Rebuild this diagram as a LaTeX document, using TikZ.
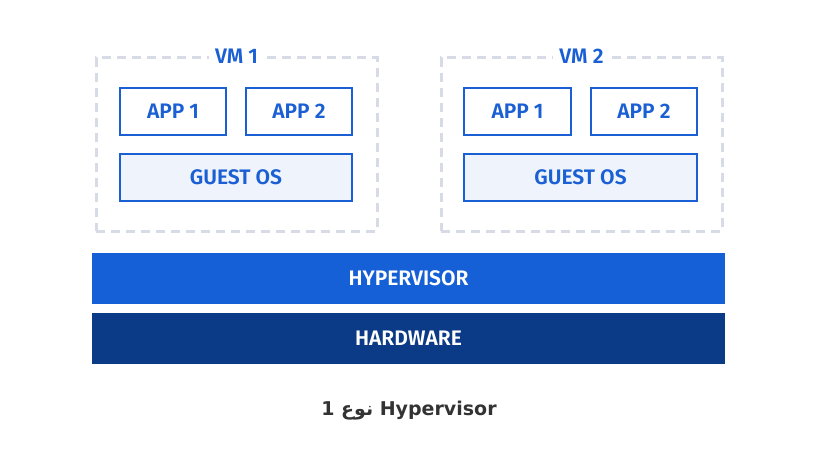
\documentclass[tikz,border=0pt]{standalone}
\usepackage{fontspec}
\setsansfont{Fira Sans}[BoldFont={Fira Sans SemiBold}]
\newfontfamily\arabicfont[Script=Arabic]{DejaVu Sans}
\TeXXeTstate=1
\usetikzlibrary{positioning}
\usepackage{xcolor}
\definecolor{vmblue}{HTML}{1A5FD3}
\definecolor{osfill}{HTML}{EEF3FC}
\definecolor{dashgray}{HTML}{D6DBE6}
\definecolor{hyperblue}{HTML}{1560D6}
\definecolor{hardblue}{HTML}{0B3A87}
\definecolor{captiongray}{HTML}{333333}

\begin{document}
\begin{tikzpicture}[x=1pt, y=-1pt, font=\sffamily\bfseries\fontsize{21}{24}\selectfont]
    \useasboundingbox (0,0) rectangle (818,462);

    % Virtual machines
    \node (vma) [rectangle, draw=dashgray, line width=3pt, dash pattern=on 9pt off 6pt, minimum width=281, minimum height=173] at (236.5,144.5) {};
    \node (vmb) [rectangle, draw=dashgray, line width=3pt, dash pattern=on 9pt off 6pt, minimum width=281, minimum height=173] at (581.5,144.5) {};
    \node (vmatitle) [fill=white, text=vmblue, inner xsep=6pt, inner ysep=2pt] at (vma.north) {VM 1};
    \node (vmbtitle) [fill=white, text=vmblue, inner xsep=6pt, inner ysep=2pt] at (vmb.north) {VM 2};

    % Apps and guest systems
    \node (appa1) [rectangle, draw=vmblue, line width=2.5pt, text=vmblue, minimum width=106, minimum height=47] at (173,111.5) {APP 1};
    \node (appa2) [rectangle, draw=vmblue, line width=2.5pt, text=vmblue, minimum width=106, minimum height=47] at (299,111.5) {APP 2};
    \node (osa) [rectangle, draw=vmblue, fill=osfill, line width=2.5pt, text=vmblue, minimum width=232, minimum height=47] at (236,177.5) {GUEST OS};
    \node (appb1) [rectangle, draw=vmblue, line width=2.5pt, text=vmblue, minimum width=107, minimum height=47] at (517.5,111.5) {APP 1};
    \node (appb2) [rectangle, draw=vmblue, line width=2.5pt, text=vmblue, minimum width=106, minimum height=47] at (644,111.5) {APP 2};
    \node (osb) [rectangle, draw=vmblue, fill=osfill, line width=2.5pt, text=vmblue, minimum width=233, minimum height=47] at (580.5,177.5) {GUEST OS};

    % Layers
    \node (hyper) [rectangle, fill=hyperblue, text=white, minimum width=633, minimum height=51] at (408.5,278.5) {HYPERVISOR};
    \node (hard) [rectangle, fill=hardblue, text=white, minimum width=633, minimum height=51] at (408.5,338.5) {HARDWARE};

    % Caption
    \node (caption) [text=captiongray, font=\arabicfont\bfseries\fontsize{19}{22}\selectfont] at (409,411) {\beginR\beginL Hypervisor\endL{} نوع 1\endR};
\end{tikzpicture}
\end{document}
